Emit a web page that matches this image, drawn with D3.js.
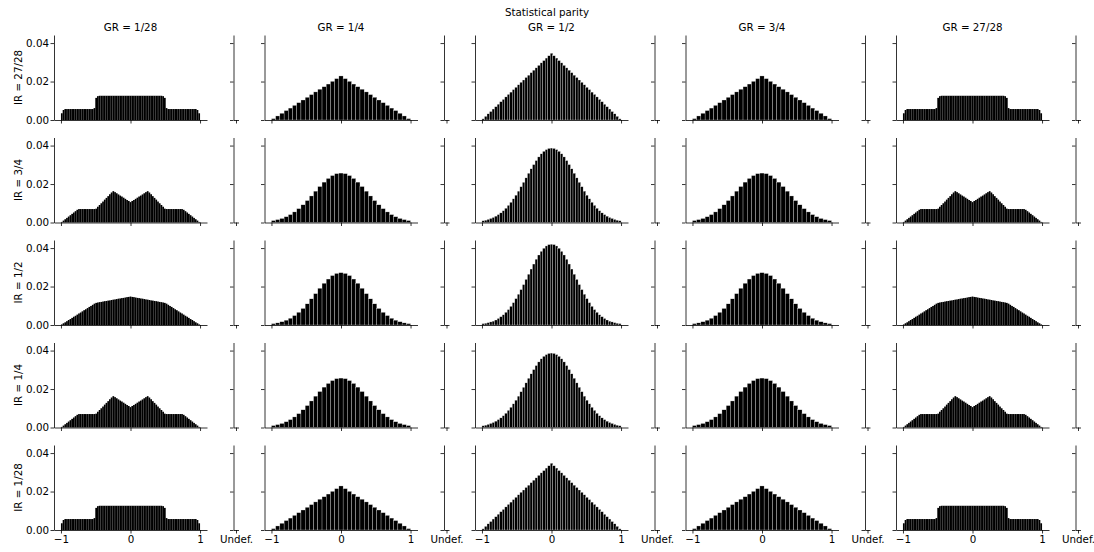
<!DOCTYPE html>
<html>
<head>
<meta charset="utf-8">
<script src="https://cdn.jsdelivr.net/npm/d3@7"></script>
<style>
  body { margin: 0; background: #fff; }
  text { font-family: "DejaVu Sans", sans-serif; }
</style>
</head>
<body>
<svg class="grid" width="1094" height="552"></svg>
<script>
// labels
var title = "Statistical parity";
var colLabels = ["GR = 1/28", "GR = 1/4", "GR = 1/2", "GR = 3/4", "GR = 27/28"];
var rowLabels = ["IR = 27/28", "IR = 3/4", "IR = 1/2", "IR = 1/4", "IR = 1/28"];
var xTicks = [-1, 0, 1];
var yTicks = [0, 0.02, 0.04];
var undefLabel = ["Undef."];

// bar heights, bins spread evenly over [-1, 1]
var gr1_28_irEdge = [0.0035,0.0052,
  0.0057,0.0057,0.0057,0.0057,0.0057,0.0057,0.0057,0.0057,0.0057,0.0057,0.0057,0.0057,0.0057,0.0057,0.0057,0.0057,0.0057,
  0.0062,0.0115,0.0124,
  0.0126,0.0126,0.0126,0.0126,0.0126,0.0126,0.0126,0.0126,0.0126,0.0126,0.0126,0.0126,0.0126,0.0126,0.0126,0.0126,0.0126,0.0126,0.0126,
  0.0126,0.0126,0.0126,0.0126,0.0126,0.0126,0.0126,0.0126,0.0126,0.0126,0.0126,0.0126,0.0126,0.0126,0.0126,0.0126,0.0126,0.0126,
  0.0124,0.0115,0.0062,
  0.0057,0.0057,0.0057,0.0057,0.0057,0.0057,0.0057,0.0057,0.0057,0.0057,0.0057,0.0057,0.0057,0.0057,0.0057,0.0057,0.0057,
  0.0052,0.0035];
var gr1_28_irMid = [0.0003,0.0010,0.0017,0.0024,0.0031,0.0038,0.0045,0.0052,0.0059,0.0066,
  0.0070,0.0070,0.0070,0.0070,0.0070,0.0070,0.0070,0.0070,0.0070,0.0070,
  0.0072,0.0082,0.0091,0.0100,0.0109,0.0119,0.0128,0.0137,0.0147,0.0156,
  0.0163,0.0158,0.0152,0.0146,0.0140,0.0135,0.0129,0.0123,0.0117,0.0112,
  0.0106,
  0.0112,0.0117,0.0123,0.0129,0.0135,0.0140,0.0146,0.0152,0.0158,0.0163,
  0.0156,0.0147,0.0137,0.0128,0.0119,0.0109,0.0100,0.0091,0.0082,0.0072,
  0.0070,0.0070,0.0070,0.0070,0.0070,0.0070,0.0070,0.0070,0.0070,0.0070,
  0.0066,0.0059,0.0052,0.0045,0.0038,0.0031,0.0024,0.0017,0.0010,0.0003];
var gr1_28_irHalf = [0.0003,0.0009,0.0014,0.0020,0.0026,0.0031,0.0037,0.0043,0.0048,0.0054,
  0.0060,0.0065,0.0071,0.0077,0.0082,0.0088,0.0094,0.0099,0.0105,0.0111,
  0.0115,0.0117,0.0119,0.0120,0.0122,0.0124,0.0125,0.0127,0.0128,0.0130,
  0.0132,0.0133,0.0135,0.0137,0.0138,0.0140,0.0141,0.0143,0.0145,0.0146,
  0.0148,
  0.0146,0.0145,0.0143,0.0141,0.0140,0.0138,0.0137,0.0135,0.0133,0.0132,
  0.0130,0.0128,0.0127,0.0125,0.0124,0.0122,0.0120,0.0119,0.0117,0.0115,
  0.0111,0.0105,0.0099,0.0094,0.0088,0.0082,0.0077,0.0071,0.0065,0.0060,
  0.0054,0.0048,0.0043,0.0037,0.0031,0.0026,0.0020,0.0014,0.0009,0.0003];

var gr1_4_irEdge = [0.0007,0.0021,0.0035,0.0049,0.0062,0.0076,0.0090,0.0104,0.0118,0.0132,0.0146,0.0160,0.0173,0.0187,0.0201,0.0215,
  0.0229,0.0215,0.0201,0.0187,0.0173,0.0160,0.0146,0.0132,0.0118,0.0104,0.0090,0.0076,0.0062,0.0049,0.0035,0.0021,0.0007];
var gr1_4_irMid = [0.0010,0.0015,0.0021,0.0030,0.0041,0.0055,0.0072,0.0092,0.0114,0.0138,0.0163,0.0187,0.0210,0.0229,0.0244,0.0254,
  0.0257,0.0254,0.0244,0.0229,0.0210,0.0187,0.0163,0.0138,0.0114,0.0092,0.0072,0.0055,0.0041,0.0030,0.0021,0.0015,0.0010];
var gr1_4_irHalf = [0.0007,0.0011,0.0017,0.0025,0.0035,0.0049,0.0066,0.0086,0.0110,0.0136,0.0163,0.0191,0.0217,0.0239,0.0257,0.0268,
  0.0272,0.0268,0.0257,0.0239,0.0217,0.0191,0.0163,0.0136,0.0110,0.0086,0.0066,0.0049,0.0035,0.0025,0.0017,0.0011,0.0007];

var gr1_2_irEdge = [0.0006,0.0019,0.0032,0.0044,0.0057,0.0069,0.0082,0.0095,0.0107,0.0120,0.0133,0.0145,0.0158,0.0170,
  0.0183,0.0196,0.0208,0.0221,0.0233,0.0246,0.0259,0.0271,0.0284,0.0297,0.0309,0.0322,0.0334,
  0.0347,
  0.0334,0.0322,0.0309,0.0297,0.0284,0.0271,0.0259,0.0246,0.0233,0.0221,0.0208,0.0196,0.0183,
  0.0170,0.0158,0.0145,0.0133,0.0120,0.0107,0.0095,0.0082,0.0069,0.0057,0.0044,0.0032,0.0019,0.0006];
var gr1_2_irMid = [0.0009,0.0012,0.0016,0.0021,0.0026,0.0033,0.0041,0.0050,0.0061,0.0074,0.0089,0.0105,0.0123,0.0142,
  0.0163,0.0186,0.0209,0.0232,0.0256,0.0279,0.0301,0.0322,0.0341,0.0357,0.0370,0.0379,0.0385,
  0.0387,
  0.0385,0.0379,0.0370,0.0357,0.0341,0.0322,0.0301,0.0279,0.0256,0.0232,0.0209,0.0186,0.0163,
  0.0142,0.0123,0.0105,0.0089,0.0074,0.0061,0.0050,0.0041,0.0033,0.0026,0.0021,0.0016,0.0012,0.0009];
var gr1_2_irHalf = [0.0007,0.0009,0.0012,0.0016,0.0020,0.0026,0.0034,0.0043,0.0053,0.0066,0.0080,0.0097,0.0116,0.0137,
  0.0160,0.0184,0.0210,0.0237,0.0264,0.0291,0.0317,0.0342,0.0364,0.0383,0.0399,0.0411,0.0418,
  0.0420,
  0.0418,0.0411,0.0399,0.0383,0.0364,0.0342,0.0317,0.0291,0.0264,0.0237,0.0210,0.0184,0.0160,
  0.0137,0.0116,0.0097,0.0080,0.0066,0.0053,0.0043,0.0034,0.0026,0.0020,0.0016,0.0012,0.0009,0.0007];

// which histogram goes in which cell (rows = IR, cols = GR)
var panels = [
  [gr1_28_irEdge, gr1_4_irEdge, gr1_2_irEdge, gr1_4_irEdge, gr1_28_irEdge],
  [gr1_28_irMid,  gr1_4_irMid,  gr1_2_irMid,  gr1_4_irMid,  gr1_28_irMid],
  [gr1_28_irHalf, gr1_4_irHalf, gr1_2_irHalf, gr1_4_irHalf, gr1_28_irHalf],
  [gr1_28_irMid,  gr1_4_irMid,  gr1_2_irMid,  gr1_4_irMid,  gr1_28_irMid],
  [gr1_28_irEdge, gr1_4_irEdge, gr1_2_irEdge, gr1_4_irEdge, gr1_28_irEdge]
];

var svg = d3.select(".grid");
var fontSize = 10.3;

// layout
var colStep = 210.5, rowStep = 102.5;
var left0 = 54, top0 = 35;
var mainW = 153, panelH = 85;
var sideOff = 179.5, sideW = 5;
var edgeCol = ["none", "#e8e8e8", "#e8e8e8", "#e8e8e8", "none"];

var x = d3.scaleLinear().domain([-1.1, 1.1]).range([0, mainW]);
var y = d3.scaleLinear().domain([0, 0.0442]).range([panelH, 0]);
var xs = d3.scalePoint().domain(undefLabel).range([0, sideW]).padding(0.5);

function styleAxis(g) {
  g.selectAll("path").attr("stroke", "#000").attr("stroke-width", 0.8);
  g.selectAll("line").attr("stroke", "#000").attr("stroke-width", 0.8);
  g.selectAll("text").attr("fill", "#000").style("font-size", fontSize + "px")
    .style("font-family", "DejaVu Sans");
}

svg.append("rect").attr("width", 1094).attr("height", 552).attr("fill", "#fff");

svg.append("text")
  .attr("x", 547).attr("y", 16)
  .attr("text-anchor", "middle")
  .style("font-size", fontSize + "px")
  .text(title);

rowLabels.forEach(function(rl, r) {
  colLabels.forEach(function(cl, c) {
    var bars = panels[r][c];
    var n = bars.length;
    var gx = left0 + c * colStep, gy = top0 + r * rowStep;
    var g = svg.append("g").attr("transform", "translate(" + gx + "," + gy + ")");

    //bars
    g.selectAll("rect.bar")
      .data(bars)
      .enter().append("rect")
      .attr("class", "bar")
      .attr("x", function(d, i) { return x(-1 + 2 * i / n); })
      .attr("width", x(2 / n) - x(0))
      .attr("y", function(d) { return y(d); })
      .attr("height", function(d) { return y(0) - y(d); })
      .attr("fill", "#000")
      .attr("stroke", edgeCol[c])
      .attr("stroke-width", 0.3);

    //x axis
    var xa = g.append("g")
      .attr("transform", "translate(0," + panelH + ")")
      .call(d3.axisBottom(x).tickValues(xTicks).tickSize(3.5).tickSizeOuter(0).tickPadding(2.5)
        .tickFormat(r == rowLabels.length - 1 ? d3.format("d") : ""));
    styleAxis(xa);

    //y axis
    var ya = g.append("g")
      .call(d3.axisLeft(y).tickValues(yTicks).tickSize(3.5).tickSizeOuter(0).tickPadding(1.5)
        .tickFormat(c == 0 ? d3.format(".2f") : ""));
    styleAxis(ya);

    // side panel for undefined values
    var s = g.append("g").attr("transform", "translate(" + sideOff + ",0)");
    var sxa = s.append("g")
      .attr("transform", "translate(0," + panelH + ")")
      .call(d3.axisBottom(xs).tickSize(3.5).tickSizeOuter(0).tickPadding(2.5)
        .tickFormat(r == rowLabels.length - 1 ? null : ""));
    styleAxis(sxa);
    var sya = s.append("g")
      .call(d3.axisLeft(y).tickValues(yTicks).tickSize(3.5).tickSizeOuter(0).tickFormat(""));
    styleAxis(sya);

    if (r == 0) {
      g.append("text")
        .attr("x", x(0)).attr("y", -4)
        .attr("text-anchor", "middle")
        .style("font-size", fontSize + "px")
        .text(cl);
    }
    if (c == 0) {
      g.append("text")
        .attr("transform", "translate(-32," + (panelH / 2) + ") rotate(-90)")
        .attr("text-anchor", "middle")
        .style("font-size", fontSize + "px")
        .text(rl);
    }
  });
});
</script>
</body>
</html>
